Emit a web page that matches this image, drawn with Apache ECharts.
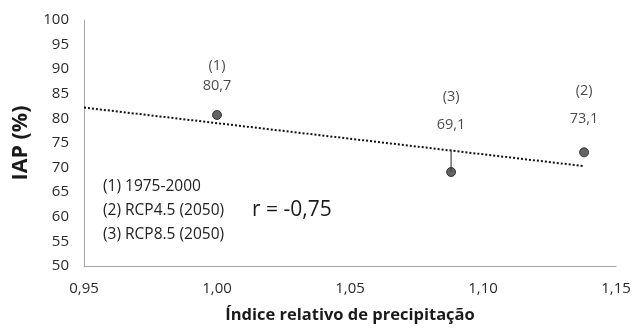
<!DOCTYPE html>
<html><head><meta charset="utf-8">
<script src="https://cdn.jsdelivr.net/npm/echarts@6/dist/echarts.min.js"></script>
<style>html,body{margin:0;padding:0;background:#fff}#c{width:634px;height:329px}</style>
</head><body><div id="c"></div>
<script>
// Data
const pointIds = ['(1)', '(2)', '(3)'];
const precipIndex = [1.000, 1.138, 1.088];
const iapValues = [80.7, 73.1, 69.1];
const trendX = [0.95, 1.138];
const trendY = [82.2, 70.3];
const residualX = [1.088, 1.088];
const residualY = [69.1, 73.5];
const legendLines = ['(1) 1975-2000', '(2) RCP4.5 (2050)', '(3) RCP8.5 (2050)'];
const rText = 'r = -0,75';
const xTicks = {min: 0.95, max: 1.15, step: 0.05};
const yTicks = {min: 50, max: 100, step: 5};

const FONT = '"Open Sans", Lato, sans-serif';
const labelDist = [14, 14, 28];

const chart = echarts.init(document.getElementById('c'));
const pts = precipIndex.map((x, i) => ({
  value: [x, iapValues[i]],
  label: {
    show: true, position: 'top', distance: labelDist[i],
    formatter: pointIds[i] + '\n' + String(iapValues[i]).replace('.', ','),
    lineHeight: i === 0 ? 20 : 28,
    fontSize: 14.5, color: '#1a1a1a', fontFamily: FONT, align: 'center'
  }
}));

chart.setOption({
  animation: false,
  grid: {left: 84, right: 18, top: 20, bottom: 60},
  xAxis: {
    type: 'value', min: xTicks.min, max: xTicks.max, interval: xTicks.step,
    name: 'Índice relativo de precipitação', nameLocation: 'middle', nameGap: 41,
    nameTextStyle: {fontSize: 16.5, fontWeight: 'bold', color: '#1a1a1a', fontFamily: FONT},
    axisLine: {show: true, lineStyle: {color: '#a6a6a6', width: 1}},
    axisTick: {show: false}, splitLine: {show: false},
    axisLabel: {margin: 15, fontSize: 15, color: '#2a2a2a', fontFamily: FONT,
      formatter: v => v.toFixed(2).replace('.', ',')}
  },
  yAxis: {
    type: 'value', min: yTicks.min, max: yTicks.max, interval: yTicks.step,
    name: 'IAP (%)', nameLocation: 'middle', nameGap: 49, nameRotate: 90,
    nameTextStyle: {fontSize: 21.5, fontWeight: 'bold', color: '#1a1a1a', fontFamily: FONT},
    axisLine: {show: true, lineStyle: {color: '#a6a6a6', width: 1}},
    axisTick: {show: false}, splitLine: {show: false},
    axisLabel: {margin: 15, fontSize: 15, color: '#2a2a2a', fontFamily: FONT}
  },
  series: [
    {
      type: 'line', data: trendX.map((x, i) => [x, trendY[i]]),
      symbol: 'none', lineStyle: {color: '#111', width: 2, type: [2, 2]}, z: 2
    },
    {
      type: 'line', data: residualX.map((x, i) => [x, residualY[i]]),
      symbol: 'none', lineStyle: {color: '#222', width: 1}, z: 2
    },
    {
      type: 'scatter', data: pts, symbol: 'circle', symbolSize: 9,
      itemStyle: {color: '#3c3c3c', borderColor: '#1a1a1a', borderWidth: 1}, z: 3
    }
  ],
  graphic: [
    ...legendLines.map((t, i) => ({
      type: 'text', left: 103, top: 179 + i * 24,
      style: {text: t, fill: '#222', font: '15.5px ' + FONT}
    })),
    {type: 'text', left: 252, top: 200, style: {text: rText, fill: '#1a1a1a', font: '21px ' + FONT}}
  ]
});
</script></body></html>
